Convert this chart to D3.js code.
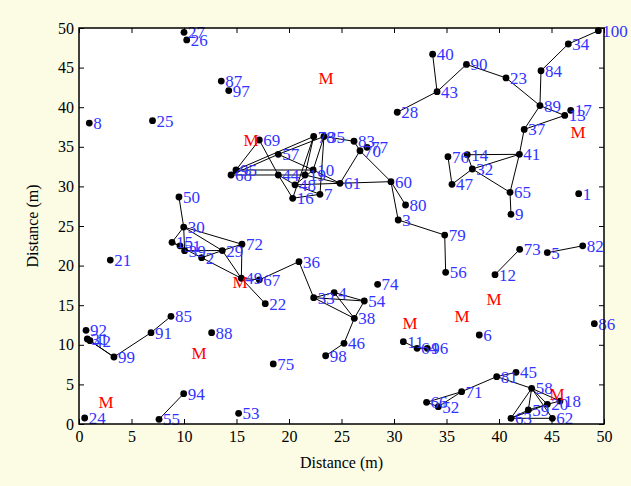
<!DOCTYPE html>
<html><head><meta charset="utf-8">
<script src="https://d3js.org/d3.v7.min.js"></script>
<style>body{margin:0;background:#fcfce4;}svg{display:block;}</style>
</head><body><svg id="c" width="631" height="486"></svg>
<script>
const nodeIds = [1,2,3,4,5,6,7,8,9,10,11,12,13,14,15,16,17,18,19,20,21,22,23,24,25,26,27,28,29,30,31,32,33,34,35,36,37,38,39,40,41,42,43,44,45,46,47,48,49,50,51,52,53,54,55,56,57,58,59,60,61,62,63,64,65,66,67,68,69,70,71,72,73,74,75,76,77,78,79,80,81,82,83,84,85,86,87,88,89,90,91,92,94,95,96,97,98,99,100];
const nodeX = [47.59,11.68,30.40,24.30,44.60,38.12,22.95,0.98,41.14,22.30,30.89,39.62,46.26,36.98,8.86,20.35,46.83,45.81,21.52,44.60,2.98,17.74,40.67,0.54,7.00,10.26,10.00,30.31,13.65,9.97,0.79,37.46,22.35,46.60,23.33,20.95,42.40,26.22,10.06,33.68,41.94,1.05,34.10,18.98,41.62,25.24,35.52,20.57,15.46,9.52,9.62,34.22,15.20,27.17,7.62,34.92,18.98,43.11,42.79,29.71,24.86,45.08,41.14,32.20,41.05,33.10,17.17,14.48,17.17,26.76,36.44,15.52,41.97,28.44,18.50,35.14,27.43,22.35,34.83,31.10,39.78,47.97,26.19,44.00,8.76,49.08,13.55,12.63,43.90,36.90,6.86,0.67,9.97,14.95,33.17,14.26,23.49,3.33,49.46];
const nodeY = [29.08,21.00,25.76,16.60,21.63,11.24,29.00,38.00,26.47,32.07,10.40,18.86,38.96,34.00,22.94,28.50,39.60,2.90,31.44,2.49,20.70,15.19,43.70,0.76,38.30,48.50,49.45,39.36,21.90,24.87,10.73,32.20,15.95,47.98,36.30,20.50,37.20,13.34,21.88,46.70,34.05,10.52,41.96,31.44,6.52,10.19,30.26,30.20,18.40,28.66,22.50,2.19,1.35,15.53,0.59,19.15,34.05,4.50,1.77,30.60,30.39,0.72,0.72,9.55,29.25,2.74,18.20,31.44,35.86,34.50,4.08,22.70,22.05,17.64,7.58,33.75,34.94,36.30,23.86,27.65,5.98,22.50,35.70,44.60,13.60,12.67,43.30,11.53,40.20,45.40,11.53,11.83,3.83,32.07,9.55,42.10,8.62,8.46,49.66];
const edges = [
 [100,34],[34,84],[84,89],[90,23],[23,89],[89,13],[37,13],[89,37],[37,41],[41,14],[41,65],[65,9],[41,32],[14,32],[32,47],[32,65],[76,47],
 [90,43],[43,40],[43,28],[73,12],[5,82],
 [68,95],[95,69],[69,44],[68,57],[57,35],[95,78],[57,10],[68,44],[95,10],[44,19],[44,48],[44,16],[78,16],[78,19],[35,10],[35,7],[10,61],[19,61],[48,7],[16,7],[48,61],[10,48],[35,83],[83,70],[70,61],[70,60],[61,60],
 [60,80],[60,3],[3,79],[79,56],
 [50,30],[30,15],[30,39],[30,29],[30,72],[15,51],[15,2],[51,39],[39,29],[2,29],[2,49],[29,49],[29,72],[72,49],[49,22],[49,67],[67,36],[36,33],[33,4],[33,54],[4,54],[33,38],[4,38],[54,38],[38,46],[46,98],
 [31,99],[42,99],[99,91],[91,85],[55,94],
 [11,64],[64,96],[66,71],[52,71],[66,52],[71,81],[81,45],[81,58],[58,18],[58,63],[58,59],[58,20],[58,62],[63,59],[63,20],[63,62],[59,20],[20,18]
];
const mX = [23.52,16.38,47.52,15.33,39.52,31.52,36.48,11.43,2.57,45.52];
const mY = [43.70,35.86,36.87,17.93,15.78,12.75,13.64,8.96,2.78,3.79];
const xTicks = [0,5,10,15,20,25,30,35,40,45,50];
const yTicks = [0,5,10,15,20,25,30,35,40,45,50];

const svg = d3.select("#c");
const L=79,R=604,T=28,B=424;
const x = d3.scaleLinear().domain([0,50]).range([L,R]);
const y = d3.scaleLinear().domain([0,50]).range([B,T]);
const font = "'Liberation Serif','Times New Roman',serif";

svg.append("rect").attr("width",631).attr("height",486).attr("fill","#fcfce4");
svg.append("rect").attr("x",L).attr("y",T).attr("width",R-L).attr("height",B-T).attr("fill","#fff");

const pos = new Map(nodeIds.map((id,i)=>[id,[nodeX[i],nodeY[i]]]));
svg.append("g").selectAll("line").data(edges.filter(e=>pos.has(e[0])&&pos.has(e[1]))).join("line")
 .attr("x1",d=>x(pos.get(d[0])[0])).attr("y1",d=>y(pos.get(d[0])[1]))
 .attr("x2",d=>x(pos.get(d[1])[0])).attr("y2",d=>y(pos.get(d[1])[1]))
 .attr("stroke","#000").attr("stroke-width",1);

const nodes = nodeIds.map((id,i)=>({id,x:nodeX[i],y:nodeY[i]}));
svg.append("g").selectAll("circle").data(nodes).join("circle")
 .attr("cx",d=>x(d.x)).attr("cy",d=>y(d.y)).attr("r",3.4).attr("fill","#000");
svg.append("g").selectAll("text").data(nodes).join("text")
 .attr("x",d=>x(d.x)+4).attr("y",d=>y(d.y)+6)
 .attr("font-family",font).attr("font-size",17).attr("fill","#3333ff").text(d=>d.id);

svg.append("g").selectAll("text").data(mX.map((v,i)=>({x:v,y:mY[i]}))).join("text")
 .attr("x",d=>x(d.x)).attr("y",d=>y(d.y)+6).attr("text-anchor","middle")
 .attr("font-family",font).attr("font-size",17).attr("fill","#ff0000").text("M");

function style(g){g.select(".domain").remove();g.selectAll("line").attr("stroke","#000");
 g.selectAll("text").attr("font-family",font).attr("font-size",16).attr("fill","#000");}
svg.append("g").attr("transform",`translate(0,${B})`).call(d3.axisBottom(x).tickValues(xTicks).tickSize(-5).tickSizeOuter(0).tickPadding(7)).call(style);
svg.append("g").attr("transform",`translate(${L},0)`).call(d3.axisLeft(y).tickValues(yTicks).tickSize(-5).tickSizeOuter(0).tickPadding(5)).call(style);
svg.append("g").attr("transform",`translate(0,${T})`).call(d3.axisTop(x).tickValues(xTicks).tickSize(-5).tickSizeOuter(0).tickFormat("")).call(style);
svg.append("g").attr("transform",`translate(${R},0)`).call(d3.axisRight(y).tickValues(yTicks).tickSize(-5).tickSizeOuter(0).tickFormat("")).call(style);
svg.append("rect").attr("x",L).attr("y",T).attr("width",R-L).attr("height",B-T).attr("fill","none").attr("stroke","#000").attr("stroke-width",1.5);

svg.append("text").attr("x",(L+R)/2).attr("y",468).attr("text-anchor","middle")
 .attr("font-family",font).attr("font-size",16).text("Distance (m)");
svg.append("text").attr("transform",`translate(38,${(T+B)/2}) rotate(-90)`).attr("text-anchor","middle")
 .attr("font-family",font).attr("font-size",16).text("Distance (m)");
</script></body></html>
